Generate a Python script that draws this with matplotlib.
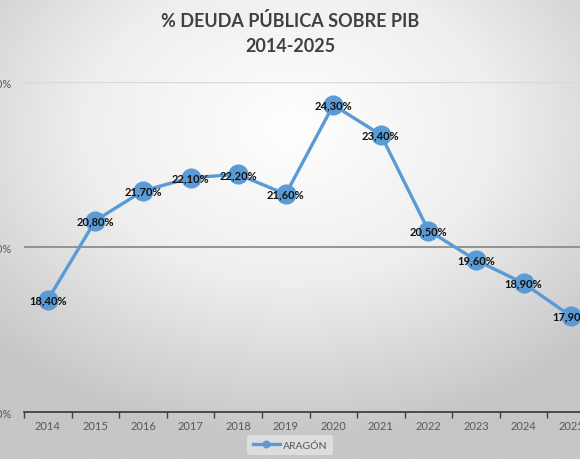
import numpy as np
import matplotlib
matplotlib.use("Agg")
import matplotlib.pyplot as plt
from matplotlib.colors import LinearSegmentedColormap

years = ['2014', '2015', '2016', '2017', '2018', '2019',
         '2020', '2021', '2022', '2023', '2024', '2025']
aragon = [18.4, 20.8, 21.7, 22.1, 22.2, 21.6, 24.3, 23.4, 20.5, 19.6, 18.9, 17.9]
y_ticks = [15, 20, 25]

plt.rcParams['font.family'] = ['Lato', 'DejaVu Sans']
blue = '#5b9bd5'

fig = plt.figure(figsize=(5.8, 4.6), dpi=100)

# radial background gradient, white in the upper middle, grey at the edges
bg = fig.add_axes([0, 0, 1, 1], zorder=-10)
gx, gy = np.meshgrid(np.linspace(0, 1, 300), np.linspace(1, 0, 240))
r = np.sqrt(((gx - 0.5) / 0.9) ** 2 + ((gy - 0.72) / 0.85) ** 2)
cmap = LinearSegmentedColormap.from_list('bg', ['#ffffff', '#eeeeee', '#c6c6c6'])
bg.imshow(r, cmap=cmap, aspect='auto', extent=[0, 1, 0, 1], vmin=0, vmax=0.8)
bg.axis('off')

# the plot area runs past the right edge, like the cropped original
ax = fig.add_axes([24 / 580, 47 / 460, 571 / 580, 330 / 460])
ax.patch.set_alpha(0)
x = np.arange(len(years))
ax.plot(x, aragon, color=blue, lw=2.4, marker='o', ms=13.5,
        markeredgecolor=blue, label='ARAGÓN', zorder=3, clip_on=False)
for xi, v in zip(x, aragon):
    ax.text(xi, v, f'{v:.2f}%'.replace('.', ','), ha='center', va='center',
            fontsize=8, fontweight='bold', color='#111111', zorder=4)

ax.set_xlim(-0.5, len(years) - 0.5)
ax.set_ylim(15, 25)
ax.set_yticks(y_ticks)
ax.set_yticklabels([f'{t},00%' for t in y_ticks], color='#595959', fontsize=8)
ax.tick_params(axis='y', length=0, pad=9)
ax.set_xticks(x)
ax.set_xticklabels(years, color='#595959', fontsize=8)
ax.set_xticks(np.arange(len(years) + 1) - 0.5, minor=True)
ax.tick_params(axis='x', which='major', length=0, pad=6)
ax.tick_params(axis='x', which='minor', length=4, color='#404040', width=1)

ax.axhline(25, color='#d9d9d9', lw=1, zorder=1)
ax.axhline(20, color='#8c8c8c', lw=1.3, zorder=1)
for s in ['top', 'right', 'left']:
    ax.spines[s].set_visible(False)
ax.spines['bottom'].set_color('#404040')
ax.spines['bottom'].set_linewidth(1.3)

fig.text(0.5, 1 - 21 / 460, '% DEUDA PÚBLICA SOBRE PIB', ha='center', va='center',
         fontsize=13, fontweight='bold', color='#404040')
fig.text(0.5, 1 - 46 / 460, '2014-2025', ha='center', va='center',
         fontsize=13, fontweight='bold', color='#404040')

leg = fig.legend(loc='center', bbox_to_anchor=(290 / 580, 1 - 446 / 460),
                 frameon=True, fontsize=7.5, handlelength=2.6, markerscale=0.35,
                 borderpad=0.5, handletextpad=0.3)
leg.get_frame().set_facecolor('#e4e4e4')
leg.get_frame().set_edgecolor('none')
leg.get_frame().set_alpha(0.8)
for t in leg.get_texts():
    t.set_color('#595959')

fig.savefig('out.png', dpi=100)
